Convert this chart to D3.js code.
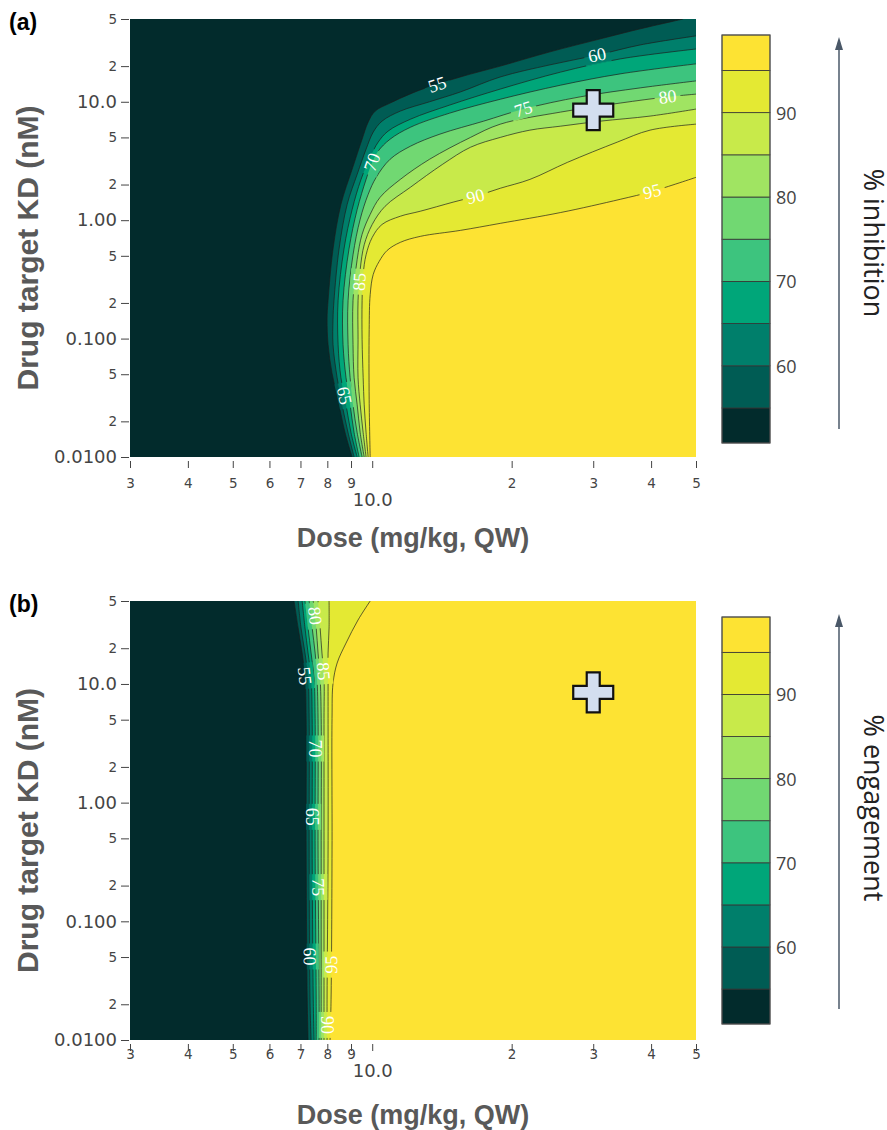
<!DOCTYPE html>
<html>
<head>
<meta charset="utf-8">
<script src="https://cdn.jsdelivr.net/npm/d3@7"></script>
<style>
  body { margin: 0; background: #fff; }
  svg { display: block; }
</style>
</head>
<body>
<div id="chart"></div>
<script>
/* DATA */
const levels = [55, 60, 65, 70, 75, 80, 85, 90, 95];
const zRange = [50.85, 99.2];
const binColors = ["#022b2c", "#005c54", "#007f6b", "#00a679", "#3dc47e", "#71d872", "#a0e462", "#c8ea4a", "#e4e933", "#fde333"];

const doseTicks = [3, 4, 5, 6, 7, 8, 9, 10, 20, 30, 40, 50];
const doseTickLabels = ["3", "4", "5", "6", "7", "8", "9", "10.0", "2", "3", "4", "5"];
const kdTicks = [0.01, 0.02, 0.05, 0.1, 0.2, 0.5, 1, 2, 5, 10, 20, 50];
const kdTickLabels = ["0.0100", "2", "5", "0.100", "2", "5", "1.00", "2", "5", "10.0", "2", "5"];
const colorbarTicks = [60, 70, 80, 90];

// target marker (dose mg/kg, KD nM)
const targetPoint = [30, 8.5];

// (a) % inhibition: one iso-line per level, [dose, KD] from bottom edge to top/right edge
const inhibitionLines = [
  [[9.05,0.01],[8.74,0.016],[8.44,0.030],[8.19,0.051],[8.03,0.089],[7.99,0.145],[8.03,0.21],[8.23,0.57],[8.56,1.36],[9.05,2.69],[9.51,4.83],[9.8,6.73],[10.15,8.34],[10.93,9.75],[12.7,12.6],[15.5,16.2],[18.9,20.0],[24.2,26.4],[31.1,34.0],[37.9,41.3],[46.9,50]],
  [[9.14,0.01],[8.87,0.016],[8.61,0.0276],[8.40,0.0467],[8.23,0.089],[8.23,0.145],[8.27,0.21],[8.48,0.57],[8.83,1.36],[9.28,2.44],[9.70,3.98],[10.05,5.54],[10.5,6.86],[11.5,8.34],[13.3,10.0],[15.5,12.1],[18.9,16.2],[24.2,20.5],[30.6,24.8],[37.9,30.2],[50,36]],
  [[9.28,0.01],[9.0,0.016],[8.78,0.0276],[8.56,0.0467],[8.44,0.089],[8.44,0.21],[8.69,0.57],[9.05,1.23],[9.46,2.21],[9.9,3.40],[10.3,4.56],[10.82,5.65],[12.1,7.13],[14.7,9.38],[18.9,12.8],[25.5,17.8],[34.3,23.0],[50,27.9]],
  [[9.37,0.01],[9.14,0.016],[8.96,0.0276],[8.78,0.0467],[8.65,0.089],[8.65,0.21],[8.91,0.57],[9.28,1.23],[9.70,2.21],[10.0,3.08],[10.3,3.83],[10.93,4.83],[12.1,6.1],[14.7,8.02],[18.9,10.5],[25.5,13.8],[34.3,17.2],[50,20.9]],
  [[9.51,0.01],[9.28,0.016],[9.09,0.0276],[8.96,0.0467],[8.87,0.089],[8.87,0.21],[9.09,0.51],[9.42,1.02],[9.8,1.65],[10.2,2.30],[10.93,3.27],[12.1,4.22],[14.0,5.33],[17.4,6.86],[21.2,8.67],[28.1,11.0],[37.9,13.1],[50,15.0]],
  [[9.61,0.01],[9.42,0.016],[9.28,0.0276],[9.14,0.0467],[9.09,0.089],[9.09,0.21],[9.28,0.466],[9.51,0.76],[9.9,1.12],[10.4,1.56],[11.5,2.21],[13.3,3.27],[16.3,5.0],[18.9,6.47],[25.5,8.18],[34.3,9.75],[43.4,11.0],[50,11.6]],
  [[9.70,0.01],[9.56,0.016],[9.42,0.0276],[9.32,0.0467],[9.32,0.098],[9.32,0.21],[9.42,0.383],[9.61,0.62],[10.0,0.92],[10.66,1.31],[12.1,1.90],[14.2,2.97],[16.3,4.13],[18.9,5.0],[21.9,5.76],[25.5,6.22],[31.1,6.86],[39.8,7.57],[50,8.67]],
  [[9.80,0.01],[9.70,0.016],[9.61,0.0276],[9.56,0.0467],[9.51,0.098],[9.51,0.21],[9.56,0.348],[9.70,0.51],[10.0,0.715],[10.5,0.92],[11.5,1.08],[12.7,1.19],[14.95,1.42],[16.7,1.59],[18.9,1.86],[21.9,2.21],[26.4,3.08],[33.8,4.56],[39.8,5.76],[50,6.47]],
  [[9.90,0.01],[9.85,0.0304],[9.85,0.119],[9.90,0.235],[10.05,0.348],[10.35,0.448],[10.77,0.555],[11.5,0.65],[12.7,0.73],[15.5,0.82],[18.9,0.94],[25.5,1.16],[34.3,1.50],[40.2,1.75],[50,2.30]]
];
// [level, dose, KD]
const inhibitionLabels = [[55,13.8,14.1],[60,30.6,24.4],[65,8.44,0.0322],[70,10.0,3.08],[75,21.2,8.67],[80,43.4,11.0],[85,9.28,0.303],[90,16.7,1.59],[95,40.2,1.75]];

// (b) % engagement: iso-lines from top edge to bottom edge
const engagementLines = [
  [[6.78,50],[6.92,29.6],[7.06,18.2],[7.16,11.2],[7.20,5.12],[7.20,0.406],[7.24,0.0218],[7.27,0.01]],
  [[6.92,50],[7.02,29.6],[7.16,18.2],[7.27,11.2],[7.31,5.12],[7.31,0.406],[7.34,0.0218],[7.38,0.01]],
  [[7.06,50],[7.16,29.6],[7.27,18.2],[7.38,11.2],[7.42,5.12],[7.42,0.406],[7.46,0.0218],[7.49,0.01]],
  [[7.16,50],[7.27,29.6],[7.38,18.2],[7.49,11.2],[7.53,5.12],[7.53,0.406],[7.57,0.0218],[7.57,0.01]],
  [[7.31,50],[7.42,29.6],[7.53,18.2],[7.60,11.2],[7.64,5.12],[7.64,0.406],[7.68,0.0218],[7.68,0.01]],
  [[7.46,50],[7.57,29.6],[7.64,18.2],[7.72,11.2],[7.76,5.12],[7.76,0.406],[7.76,0.0218],[7.76,0.01]],
  [[7.64,50],[7.72,29.6],[7.79,18.2],[7.87,11.2],[7.87,5.12],[7.87,0.406],[7.87,0.0218],[7.87,0.01]],
  [[8.07,50],[8.07,29.6],[8.03,18.2],[8.03,11.2],[8.03,5.12],[8.03,0.406],[7.99,0.0218],[7.99,0.01]],
  [[9.90,50],[9.32,34.6],[8.78,22.1],[8.40,15.0],[8.23,10.1],[8.19,5.12],[8.19,0.406],[8.15,0.0218],[8.11,0.01]]
];
const engagementLabels = [[80,7.83,38.2],[55,7.06,11.6],[85,7.83,12.8],[70,7.49,2.86],[65,7.42,0.759],[75,7.60,0.194],[60,7.27,0.0505],[95,8.11,0.0432],[90,8.03,0.0134]];

/* LAYOUT */
const width = 887, height = 1130;
const plotLeft = 130, plotRight = 696;

const panels = [
  { tag: "(a)", tagY: 30, top: 19, bottom: 457, lines: inhibitionLines, labels: inhibitionLabels,
    minorY: 483, majorY: 499, titleY: 547, cbTop: 35, cbBottom: 443, arrowTop: 37, arrowBottom: 429,
    legend: "% inhibition", legendY: 243 },
  { tag: "(b)", tagY: 612, top: 601, bottom: 1040, lines: engagementLines, labels: engagementLabels,
    minorY: 1054, majorY: 1070, titleY: 1124, cbTop: 617, cbBottom: 1024, arrowTop: 614, arrowBottom: 1009,
    legend: "% engagement", legendY: 808 }
];

const svg = d3.select("#chart").append("svg")
  .attr("width", width)
  .attr("height", height);

const xScale = d3.scaleLog().domain([3, 50]).range([plotLeft, plotRight]);

// nearest point on a pixel polyline, with the local direction
function snapToLine(pts, px, py) {
  let best = null;
  for (let i = 0; i < pts.length - 1; i++) {
    const [x1, y1] = pts[i], [x2, y2] = pts[i + 1];
    const dx = x2 - x1, dy = y2 - y1;
    const t = Math.max(0, Math.min(1, ((px - x1) * dx + (py - y1) * dy) / (dx * dx + dy * dy)));
    const qx = x1 + t * dx, qy = y1 + t * dy;
    const dist = Math.hypot(px - qx, py - qy);
    if (!best || dist < best.dist) best = { x: qx, y: qy, dist, ang: Math.atan2(dy, dx) * 180 / Math.PI };
  }
  let a = best.ang;
  if (a > 90) a -= 180;
  if (a <= -90) a += 180;
  best.ang = a;
  return best;
}

panels.forEach((p, pi) => {
  const yScale = d3.scaleLog().domain([0.01, 50]).range([p.bottom, p.top]);
  const g = svg.append("g");
  const defs = g.append("defs");

  defs.append("clipPath").attr("id", "clip" + pi)
    .append("rect")
    .attr("x", plotLeft).attr("y", p.top)
    .attr("width", plotRight - plotLeft).attr("height", p.bottom - p.top);

  const plot = g.append("g").attr("clip-path", `url(#clip${pi})`);

  // lowest band covers everything
  plot.append("rect")
    .attr("x", plotLeft).attr("y", p.top)
    .attr("width", plotRight - plotLeft).attr("height", p.bottom - p.top)
    .attr("fill", binColors[0]);

  const lineGen = d3.line()
    .x(d => xScale(d[0]))
    .y(d => yScale(d[1]))
    .curve(d3.curveCatmullRom.alpha(0.5));

  // filled bands: region right of each iso-line
  p.lines.forEach((pts, i) => {
    const first = pts[0], last = pts[pts.length - 1];
    const corners = [[50, last[1]], [50, first[1]]];
    const d = lineGen(pts) + corners.map(c => `L${xScale(c[0])},${yScale(c[1])}`).join("") + "Z";
    plot.append("path").attr("d", d).attr("fill", binColors[i + 1]);
  });

  const placed = p.labels.map(([lvl, dose, kd]) => {
    const idx = levels.indexOf(lvl);
    const px = p.lines[idx].map(d => [xScale(d[0]), yScale(d[1])]);
    const s = snapToLine(px, xScale(dose), yScale(kd));
    return { lvl, x: s.x, y: s.y, ang: s.ang };
  });

  // break the lines under the labels
  const mask = defs.append("mask").attr("id", "mask" + pi)
    .attr("maskUnits", "userSpaceOnUse")
    .attr("x", 0).attr("y", 0).attr("width", width).attr("height", height);
  mask.append("rect").attr("x", 0).attr("y", 0).attr("width", width).attr("height", height).attr("fill", "white");
  placed.forEach(l => {
    mask.append("rect")
      .attr("x", -13).attr("y", -9).attr("width", 26).attr("height", 18)
      .attr("transform", `translate(${l.x},${l.y}) rotate(${l.ang})`)
      .attr("fill", "black");
  });

  const lineLayer = plot.append("g").attr("mask", `url(#mask${pi})`);
  p.lines.forEach(pts => {
    lineLayer.append("path")
      .attr("d", lineGen(pts))
      .attr("fill", "none")
      .attr("stroke", "#1c1c1c")
      .attr("stroke-width", 0.8)
      .attr("stroke-opacity", 0.85);
  });

  plot.selectAll("text.clabel")
    .data(placed)
    .join("text")
    .attr("class", "clabel")
    .attr("transform", d => `translate(${d.x},${d.y}) rotate(${d.ang})`)
    .attr("text-anchor", "middle")
    .attr("dominant-baseline", "central")
    .attr("font-family", "Liberation Serif, serif")
    .attr("font-size", 18)
    .attr("fill", "white")
    .text(d => d.lvl);

  // target cross
  const cx = xScale(targetPoint[0]), cy = yScale(targetPoint[1]);
  const a = 20, t = 6.5;
  const cross = [[-t,-a],[t,-a],[t,-t],[a,-t],[a,t],[t,t],[t,a],[-t,a],[-t,t],[-a,t],[-a,-t],[-t,-t]];
  g.append("path")
    .attr("d", "M" + cross.map(c => `${cx + c[0]},${cy + c[1]}`).join("L") + "Z")
    .attr("fill", "#d3deef")
    .attr("stroke", "#111")
    .attr("stroke-width", 2.2)
    .attr("stroke-linejoin", "miter");

  // x axis
  const xAxis = d3.axisBottom(xScale)
    .tickValues(doseTicks)
    .tickFormat((d, i) => doseTickLabels[i])
    .tickSize(7)
    .tickSizeOuter(0);
  const gx = g.append("g")
    .attr("transform", `translate(0,${p.bottom + 4})`)
    .call(xAxis);
  gx.select(".domain").remove();
  gx.selectAll(".tick line").attr("stroke", "#444");
  gx.selectAll(".tick text")
    .attr("dy", null)
    .attr("dominant-baseline", "central")
    .attr("font-family", "DejaVu Sans, sans-serif")
    .attr("fill", "#444")
    .attr("font-size", d => d === 10 ? 18 : 13.5)
    .attr("y", d => (d === 10 ? p.majorY : p.minorY) - p.bottom - 4);

  // y axis
  const yAxis = d3.axisLeft(yScale)
    .tickValues(kdTicks)
    .tickFormat((d, i) => kdTickLabels[i])
    .tickSize(8)
    .tickPadding(4)
    .tickSizeOuter(0);
  const majors = [0.01, 0.1, 1, 10];
  const gy = g.append("g")
    .attr("transform", `translate(${plotLeft - 1},0)`)
    .call(yAxis);
  gy.select(".domain").remove();
  gy.selectAll(".tick line").attr("stroke", "#444");
  gy.selectAll(".tick text")
    .attr("font-family", "DejaVu Sans, sans-serif")
    .attr("fill", "#444")
    .attr("font-size", d => majors.includes(d) ? 18 : 13.5);

  // axis titles
  g.append("text")
    .attr("x", (plotLeft + plotRight) / 2)
    .attr("y", p.titleY)
    .attr("text-anchor", "middle")
    .attr("font-family", "Liberation Sans, Arial, sans-serif")
    .attr("font-weight", "bold")
    .attr("font-size", 27)
    .attr("fill", "#595959")
    .text("Dose (mg/kg, QW)");

  g.append("text")
    .attr("transform", `translate(38,${(p.top + p.bottom) / 2 + 10}) rotate(-90)`)
    .attr("text-anchor", "middle")
    .attr("font-family", "Liberation Sans, Arial, sans-serif")
    .attr("font-weight", "bold")
    .attr("font-size", 30)
    .attr("fill", "#595959")
    .text("Drug target KD (nM)");

  // panel tag
  g.append("text")
    .attr("x", 9).attr("y", p.tagY)
    .attr("font-family", "Liberation Sans, Arial, sans-serif")
    .attr("font-weight", "bold")
    .attr("font-size", 23)
    .attr("fill", "#000")
    .text(p.tag);

  // colour bar
  const cb = d3.scaleLinear().domain(zRange).range([p.cbBottom, p.cbTop]);
  const bounds = [zRange[0], ...levels, zRange[1]];
  const cbg = g.append("g");
  cbg.selectAll("rect")
    .data(d3.pairs(bounds))
    .join("rect")
    .attr("x", 722)
    .attr("width", 48)
    .attr("y", d => cb(d[1]))
    .attr("height", d => cb(d[0]) - cb(d[1]))
    .attr("fill", (d, i) => binColors[i])
    .attr("stroke", "#333")
    .attr("stroke-width", 0.8);
  cbg.append("rect")
    .attr("x", 722).attr("y", p.cbTop)
    .attr("width", 48).attr("height", p.cbBottom - p.cbTop)
    .attr("fill", "none").attr("stroke", "#555").attr("stroke-width", 1);
  cbg.selectAll("text")
    .data(colorbarTicks)
    .join("text")
    .attr("x", 776)
    .attr("y", d => cb(d))
    .attr("dominant-baseline", "central")
    .attr("font-family", "Open Sans, sans-serif")
    .attr("font-size", 18)
    .attr("fill", "#444")
    .text(d => d);

  // arrow
  g.append("line")
    .attr("x1", 839).attr("x2", 839)
    .attr("y1", p.arrowBottom).attr("y2", p.arrowTop + 10)
    .attr("stroke", "#4a5868").attr("stroke-width", 1.5);
  g.append("path")
    .attr("d", `M839,${p.arrowTop}L835,${p.arrowTop + 13}L843,${p.arrowTop + 13}Z`)
    .attr("fill", "#4a5868");

  g.append("text")
    .attr("transform", `translate(864,${p.legendY}) rotate(90)`)
    .attr("text-anchor", "middle")
    .attr("font-family", "Open Sans, sans-serif")
    .attr("font-size", 27)
    .attr("fill", "#222")
    .text(p.legend);
});
</script>
</body>
</html>
